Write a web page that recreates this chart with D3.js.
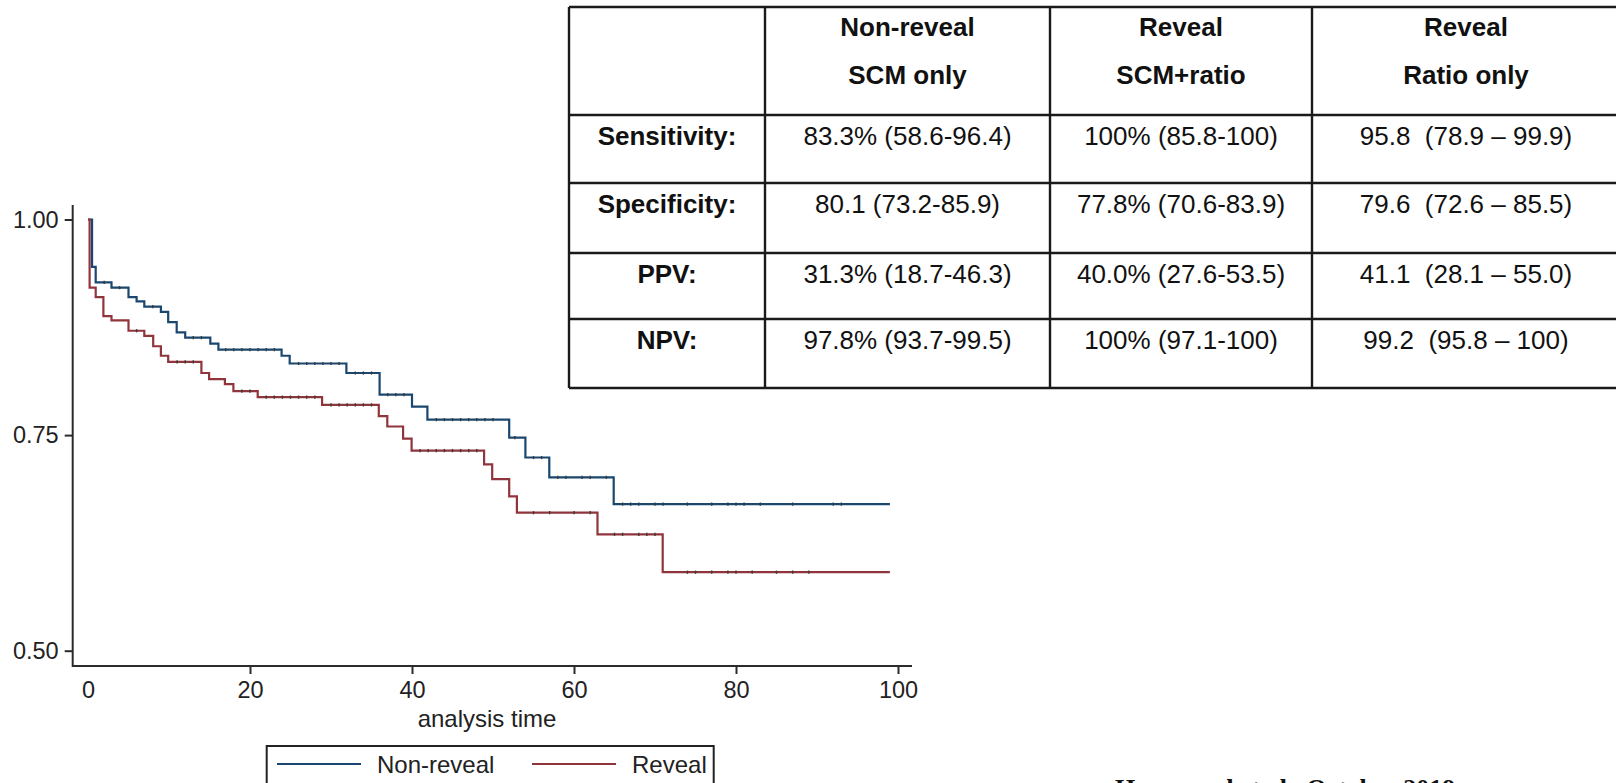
<!DOCTYPE html>
<html>
<head>
<meta charset="utf-8">
<script src="https://cdn.jsdelivr.net/npm/d3@7"></script>
<style>
  html, body { margin: 0; padding: 0; background: #ffffff; }
  svg { display: block; }
  text { font-family: "Liberation Sans", Arial, Helvetica, sans-serif; }
</style>
</head>
<body>
<svg id="chart" width="1616" height="783"></svg>
<script>
// ---- Kaplan-Meier data: event times and survival after each drop ----
const nonRevealTimes = [0.5, 0.95, 2.9, 5.0, 6.0, 6.95, 9.0, 9.9, 10.95, 12.0, 15.1, 16.1, 23.9, 24.9, 31.9, 36.0, 40.0, 41.9, 52.0, 54.0, 56.95, 64.9];
const nonRevealSurv  = [0.945, 0.927, 0.921, 0.910, 0.905, 0.899, 0.893, 0.881, 0.869, 0.863, 0.856, 0.849, 0.842, 0.833, 0.822, 0.797, 0.783, 0.768, 0.747, 0.724, 0.701, 0.670];
const nonRevealCensored = [2, 3.9, 8, 13, 14, 17, 18, 19, 20, 21, 22, 23, 26, 27, 28, 29, 30, 31, 33, 34, 35, 37, 38, 39, 43, 44, 45, 46, 47, 48, 49, 50, 52.7, 55, 56, 58, 59, 61, 62, 64, 66, 67, 68, 70, 71, 74, 77, 79, 80, 81, 83, 87, 92, 93];

const revealTimes = [0.2, 0.95, 1.9, 2.9, 5.0, 6.95, 8.05, 9.0, 9.9, 14.0, 14.95, 16.9, 17.95, 20.95, 28.9, 35.9, 36.95, 38.9, 39.95, 48.9, 49.9, 52.0, 52.95, 62.9, 70.95];
const revealSurv  = [0.921, 0.910, 0.888, 0.883, 0.871, 0.865, 0.853, 0.842, 0.835, 0.822, 0.815, 0.809, 0.801, 0.794, 0.785, 0.772, 0.760, 0.746, 0.732, 0.716, 0.699, 0.679, 0.660, 0.635, 0.591];
const revealCensored = [6, 11, 12, 13, 19, 20, 22, 23, 24, 25, 26, 27, 28, 30, 31, 32, 33, 34, 35, 41, 42, 43, 44, 45, 46, 47, 48, 55, 57, 60, 62, 65, 66, 68, 69, 70, 74, 75, 77, 79, 80, 82, 85, 87, 89];

const followUpEnd = 99;

// ---- Axis ticks ----
const xTicks = [0, 20, 40, 60, 80, 100];
const yTicks = [0.50, 0.75, 1.00];
const xTitle = "analysis time";

// ---- Legend ----
const seriesNames = ["Non-reveal", "Reveal"];
const seriesColors = ["#1a476f", "#90353b"];

// ---- Diagnostic table ----
const tableHeader1 = ["", "Non-reveal", "Reveal", "Reveal"];
const tableHeader2 = ["", "SCM only", "SCM+ratio", "Ratio only"];
const rowLabels = ["Sensitivity:", "Specificity:", "PPV:", "NPV:"];
const colNonRevealSCM = ["83.3% (58.6-96.4)", "80.1 (73.2-85.9)", "31.3% (18.7-46.3)", "97.8% (93.7-99.5)"];
const colRevealSCMRatio = ["100% (85.8-100)", "77.8% (70.6-83.9)", "40.0% (27.6-53.5)", "100% (97.1-100)"];
const colRevealRatio = ["95.8  (78.9 \u2013 99.9)", "79.6  (72.6 \u2013 85.5)", "41.1  (28.1 \u2013 55.0)", "99.2  (95.8 \u2013 100)"];

const footnote = "Hammond et al., October 2019";

const svg = d3.select("#chart");

// ---- Scales ----
const plotLeft = 72.7, plotRight = 912, plotTop = 205, plotBottom = 666;
const x = d3.scaleLinear().domain([0, 100]).range([88, 898]);
const y = d3.scaleLinear().domain([0.5, 1.0]).range([650.7, 219.5]);

const axisColor = "#2b2b2b";

// ---- Axes ----
const gy = svg.append("g").attr("transform", `translate(${plotLeft},0)`)
  .call(d3.axisLeft(y).tickValues(yTicks).tickFormat(d3.format(".2f")).tickSize(8).tickPadding(6));
gy.select(".domain").remove();
gy.selectAll(".tick line").attr("stroke", axisColor).attr("stroke-width", 2);
gy.selectAll(".tick text").attr("font-size", 23.5).attr("fill", "#222")
  .style("font-family", "'Liberation Sans', Arial, sans-serif");

const gx = svg.append("g").attr("transform", `translate(0,${plotBottom})`)
  .call(d3.axisBottom(x).tickValues(xTicks).tickFormat(d3.format("d")).tickSize(8).tickPadding(7));
gx.select(".domain").remove();
gx.selectAll(".tick line").attr("stroke", axisColor).attr("stroke-width", 2)
  .attr("display", d => d === 0 ? "none" : null);
gx.selectAll(".tick text").attr("font-size", 23.5).attr("fill", "#222")
  .style("font-family", "'Liberation Sans', Arial, sans-serif");

svg.append("path")
  .attr("d", `M${plotLeft},${plotTop}V${plotBottom}H${plotRight}`)
  .attr("fill", "none").attr("stroke", axisColor).attr("stroke-width", 2);

svg.append("text")
  .attr("x", 487).attr("y", 727)
  .attr("text-anchor", "middle").attr("font-size", 24).attr("fill", "#222")
  .text(xTitle);

// ---- Survival curves ----
function stepPoints(times, surv) {
  const pts = [[0, 1]];
  times.forEach((t, i) => pts.push([t, surv[i]]));
  pts.push([followUpEnd, surv[surv.length - 1]]);
  return pts;
}
function survivalAt(times, surv, t) {
  let s = 1;
  for (let i = 0; i < times.length; i++) { if (times[i] <= t) s = surv[i]; }
  return s;
}

const stepLine = d3.line().x(d => x(d[0])).y(d => y(d[1])).curve(d3.curveStepAfter);

const series = [
  { times: nonRevealTimes, surv: nonRevealSurv, cens: nonRevealCensored, color: seriesColors[0] },
  { times: revealTimes, surv: revealSurv, cens: revealCensored, color: seriesColors[1] }
];

series.forEach(s => {
  svg.append("path")
    .datum(stepPoints(s.times, s.surv))
    .attr("d", stepLine)
    .attr("fill", "none")
    .attr("stroke", s.color)
    .attr("stroke-width", 2.2)
    .attr("stroke-linejoin", "miter");
  // censoring marks
  svg.append("g").selectAll("line")
    .data(s.cens)
    .join("line")
    .attr("x1", d => x(d)).attr("x2", d => x(d))
    .attr("y1", d => y(survivalAt(s.times, s.surv, d)) - 1.6)
    .attr("y2", d => y(survivalAt(s.times, s.surv, d)) + 1.6)
    .attr("stroke", "#3a3a3a")
    .attr("stroke-width", 1.4);
});

// ---- Legend ----
const legend = svg.append("g");
legend.append("rect")
  .attr("x", 266.7).attr("y", 746).attr("width", 447).attr("height", 80)
  .attr("fill", "#fff").attr("stroke", "#222").attr("stroke-width", 2);
const legendItems = [
  { name: seriesNames[0], color: seriesColors[0], x0: 277 },
  { name: seriesNames[1], color: seriesColors[1], x0: 532 }
];
legendItems.forEach(it => {
  legend.append("line")
    .attr("x1", it.x0).attr("x2", it.x0 + 84)
    .attr("y1", 764).attr("y2", 764)
    .attr("stroke", it.color).attr("stroke-width", 2);
  legend.append("text")
    .attr("x", it.x0 + 100).attr("y", 772.5)
    .attr("font-size", 24).attr("fill", "#222")
    .text(it.name);
});

// ---- Table ----
const colEdges = [569, 765, 1050, 1312, 1620];
const rowEdges = [7, 115, 183, 253, 319, 388];
const table = svg.append("g");
table.append("rect")
  .attr("x", colEdges[0]).attr("y", rowEdges[0])
  .attr("width", colEdges[4] - colEdges[0]).attr("height", rowEdges[5] - rowEdges[0])
  .attr("fill", "#fff");
rowEdges.forEach(r => table.append("line")
  .attr("x1", colEdges[0]).attr("x2", colEdges[4]).attr("y1", r).attr("y2", r)
  .attr("stroke", "#1a1a1a").attr("stroke-width", 2.4));
colEdges.forEach(c => table.append("line")
  .attr("x1", c).attr("x2", c).attr("y1", rowEdges[0]).attr("y2", rowEdges[5])
  .attr("stroke", "#1a1a1a").attr("stroke-width", 2.4));

const colCenter = i => (colEdges[i] + colEdges[i + 1]) / 2;
for (let c = 1; c < 4; c++) {
  table.append("text").attr("x", colCenter(c)).attr("y", 36)
    .attr("text-anchor", "middle").attr("font-size", 26).attr("font-weight", "bold").attr("fill", "#111")
    .text(tableHeader1[c]);
  table.append("text").attr("x", colCenter(c)).attr("y", 84)
    .attr("text-anchor", "middle").attr("font-size", 26).attr("font-weight", "bold").attr("fill", "#111")
    .text(tableHeader2[c]);
}
const bodyCols = [colNonRevealSCM, colRevealSCMRatio, colRevealRatio];
rowLabels.forEach((lab, r) => {
  const base = rowEdges[r + 1] + 29.5;
  table.append("text").attr("x", colCenter(0)).attr("y", base)
    .attr("text-anchor", "middle").attr("font-size", 26).attr("font-weight", "bold").attr("fill", "#111")
    .text(lab);
  bodyCols.forEach((col, c) => {
    table.append("text").attr("x", colCenter(c + 1)).attr("y", base)
      .attr("text-anchor", "middle").attr("font-size", 26).attr("fill", "#111")
      .style("white-space", "pre")
      .text(col[r]);
  });
});

// ---- Footnote (runs off the bottom edge) ----
svg.append("text")
  .attr("x", 1115).attr("y", 797)
  .attr("font-size", 26).attr("font-weight", "bold").attr("fill", "#111")
  .style("font-family", "'Liberation Serif', 'Times New Roman', serif")
  .text(footnote);
</script>
</body>
</html>
